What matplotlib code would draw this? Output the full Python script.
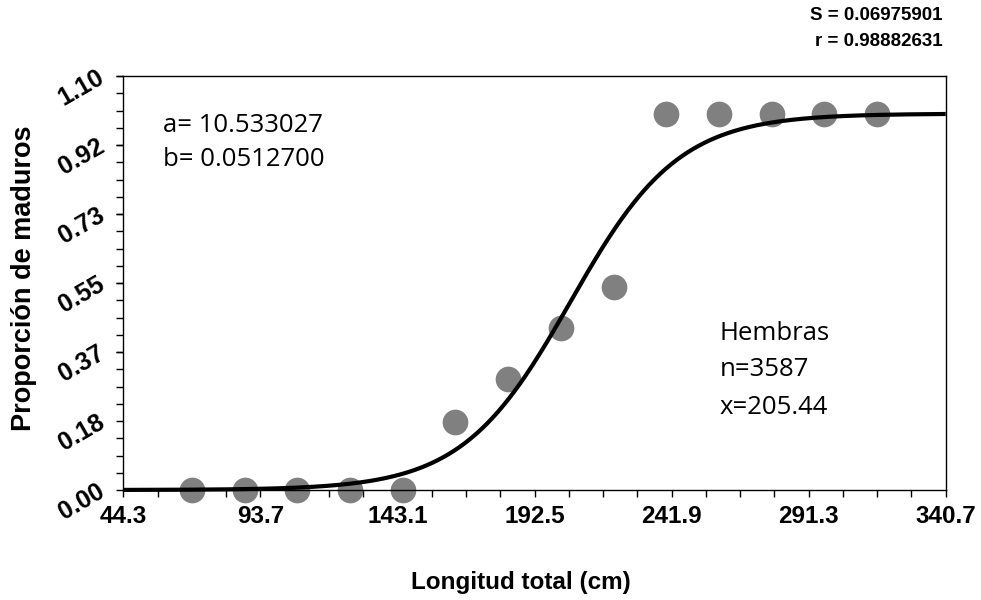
import numpy as np
import matplotlib
matplotlib.use("Agg")
import matplotlib.pyplot as plt
from matplotlib.ticker import FixedLocator, AutoMinorLocator

# Data
longitud = [69, 88, 107, 126, 145, 164, 183, 202, 221, 240, 259, 278, 297, 316]
proporcion = [0.0, 0.0, 0.0, 0.0, 0.0, 0.181, 0.295, 0.430, 0.540, 1.0, 1.0, 1.0, 1.0, 1.0]
a_param = 10.533027
b_param = 0.0512700
x_ticks = [44.3, 93.7, 143.1, 192.5, 241.9, 291.3, 340.7]
y_ticks = [0.0, 0.1833, 0.3667, 0.55, 0.7333, 0.9167, 1.10]
y_tick_labels = ["0.00", "0.18", "0.37", "0.55", "0.73", "0.92", "1.10"]

plt.rcParams['font.family'] = ['Liberation Sans', 'DejaVu Sans']

fig = plt.figure(figsize=(9.81, 6.0), dpi=100)
ax = fig.add_axes([123.3 / 981, 1 - 490 / 600, (945.7 - 123.3) / 981, (490 - 76) / 600])

# fitted logistic curve from the chart's parameters
xc = np.linspace(x_ticks[0], x_ticks[-1], 600)
yc = 1.0 / (1.0 + np.exp(a_param - b_param * xc))

ax.plot(longitud, proporcion, 'o', color='#808080', markersize=18.5,
        markeredgewidth=0, zorder=2, clip_on=False)
ax.plot(xc, yc, color='black', linewidth=3.0, zorder=3, clip_on=False,
        solid_capstyle='butt')

ax.set_xlim(x_ticks[0], x_ticks[-1])
ax.set_ylim(0, 1.10)
ax.xaxis.set_major_locator(FixedLocator(x_ticks))
ax.yaxis.set_major_locator(FixedLocator(y_ticks))
ax.xaxis.set_minor_locator(AutoMinorLocator(4))
ax.yaxis.set_minor_locator(AutoMinorLocator(4))
ax.set_xticklabels([f"{v:.1f}" for v in x_ticks])
ax.set_yticklabels(y_tick_labels)

for lab in ax.get_xticklabels():
    lab.set_fontweight('bold')
    lab.set_fontsize(17.5)
for lab in ax.get_yticklabels():
    lab.set_fontweight('bold')
    lab.set_fontsize(18)
    lab.set_rotation(30)
    lab.set_rotation_mode('anchor')
    lab.set_ha('right')
    lab.set_va('center')

ax.tick_params(axis='both', which='both', direction='out', length=5, width=1, color='black')
ax.tick_params(axis='x', which='major', pad=6)
ax.tick_params(axis='y', which='major', pad=10)
for sp in ax.spines.values():
    sp.set_linewidth(1.0)
    sp.set_color('black')

fig.text(521 / 981, 1 - 582 / 600, "Longitud total (cm)", ha='center', va='center',
         fontsize=17.5, fontweight='bold')
fig.text(24 / 981, 1 - 278 / 600, "Proporción de maduros", ha='center', va='center',
         fontsize=19.5, fontweight='bold', rotation=90)

fig.text(943 / 981, 1 - 15 / 600, "S = 0.06975901", ha='right', va='center',
         fontsize=13.5, fontweight='bold')
fig.text(943 / 981, 1 - 42 / 600, "r = 0.98882631", ha='right', va='center',
         fontsize=13.5, fontweight='bold')

ann_font = ['Open Sans', 'DejaVu Sans']
fig.text(163 / 981, 1 - 125 / 600, "a= 10.533027", ha='left', va='center',
         fontsize=18.5, family=ann_font)
fig.text(163 / 981, 1 - 160 / 600, "b= 0.0512700", ha='left', va='center',
         fontsize=18.5, family=ann_font)
fig.text(720 / 981, 1 - 334 / 600, "Hembras", ha='left', va='center',
         fontsize=18.5, family=ann_font)
fig.text(720 / 981, 1 - 370 / 600, "n=3587", ha='left', va='center',
         fontsize=18.5, family=ann_font)
fig.text(720 / 981, 1 - 407 / 600, "x=205.44", ha='left', va='center',
         fontsize=18.5, family=ann_font)

fig.savefig("out.png", dpi=100)
